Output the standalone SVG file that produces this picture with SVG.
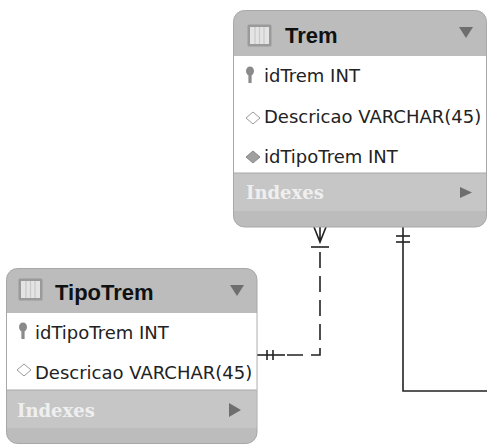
<svg xmlns="http://www.w3.org/2000/svg" width="487" height="445" viewBox="0 0 487 445">
<style>
.box{fill:#bcbcbc;stroke:#a8a8a8;stroke-width:1}
.body{fill:#ffffff}
.idx{fill:#c6c6c6}
.title{font-family:"Liberation Sans",Arial,sans-serif;font-weight:bold;font-size:22px;fill:#111}
.col{font-family:"DejaVu Sans",Verdana,sans-serif;font-size:18px;fill:#222}
.ixt{font-family:"DejaVu Serif","Liberation Serif",serif;font-weight:bold;font-size:18px;fill:#efefef}
.tri{fill:#6e6e6e}
.ln{stroke:#222;stroke-width:1.6;fill:none}
.dash{stroke-dasharray:16 8}
.dopen{fill:#fff;stroke:#999;stroke-width:1}
.dfill{fill:#a0a0a0;stroke:#888;stroke-width:1}
</style>
<defs>
<g id="tblicon">
<rect x="0.5" y="0.5" width="24" height="22" rx="1.5" fill="#9a9a9a"/>
<rect x="3" y="3" width="19" height="17" fill="#e4e4e4"/>
<line x1="8" y1="3" x2="8" y2="20" stroke="#c8c8c8" stroke-width="1.2"/>
<line x1="12.5" y1="3" x2="12.5" y2="20" stroke="#c8c8c8" stroke-width="1.2"/>
<line x1="17" y1="3" x2="17" y2="20" stroke="#c8c8c8" stroke-width="1.2"/>
</g>
<g id="keyicon">
<ellipse cx="0" cy="0" rx="4" ry="4.5" fill="#8a8a8a"/>
<rect x="-1.6" y="3" width="3.2" height="9" fill="#8a8a8a"/>
</g>
</defs>

<g id="connectors">
<path class="ln dash" d="M320,252 L320,355 L279,355"/>
<path class="ln" d="M257,355 L285,355"/>
<line class="ln" x1="267" y1="350" x2="267" y2="360"/>
<line class="ln" x1="273" y1="350" x2="273" y2="360"/>
<path class="ln" d="M314,227 L320,242 L326,227 M320,227 L320,242"/>
<line class="ln" x1="311" y1="247" x2="329" y2="247"/>
<path class="ln" d="M403,227 L403,391 L487,391"/>
<line class="ln" x1="396" y1="236" x2="410" y2="236"/>
<line class="ln" x1="396" y1="242" x2="410" y2="242"/>
</g>

<g id="Trem">
<rect class="box" x="233.5" y="10.5" width="253" height="216.5" rx="11"/>
<rect class="body" x="234" y="56" width="252" height="117"/>
<rect class="idx" x="234" y="173" width="252" height="38"/>
<line x1="234" y1="173" x2="486" y2="173" stroke="#a8a8a8"/>
<use href="#tblicon" x="247" y="24"/>
<text class="title" x="285" y="43">Trem</text>
<path class="tri" d="M459,27 L473,27 L466,38 Z"/>
<use href="#keyicon" x="250" y="71"/>
<text class="col" x="264" y="82">idTrem INT</text>
<path class="dopen" d="M246,118 L253,112 L260,118 L253,124 Z"/>
<text class="col" x="264" y="123">Descricao VARCHAR(45)</text>
<path class="dfill" d="M246,157 L253,151 L260,157 L253,163 Z"/>
<text class="col" x="264" y="163">idTipoTrem INT</text>
<text class="ixt" x="246" y="199">Indexes</text>
<path class="tri" d="M460,187 L472,192.5 L460,198 Z"/>
</g>

<g id="TipoTrem">
<rect class="box" x="6.5" y="268.5" width="250.5" height="175" rx="11"/>
<rect class="body" x="7" y="313" width="249.5" height="77"/>
<rect class="idx" x="7" y="390" width="249.5" height="38"/>
<line x1="7" y1="390" x2="256.5" y2="390" stroke="#a8a8a8"/>
<use href="#tblicon" x="18" y="278"/>
<text class="title" x="55" y="300">TipoTrem</text>
<path class="tri" d="M230,285 L244,285 L237,296 Z"/>
<use href="#keyicon" x="23" y="327"/>
<text class="col" x="35" y="339">idTipoTrem INT</text>
<path class="dopen" d="M17,370 L24,364 L31,370 L24,376 Z"/>
<text class="col" x="35" y="379">Descricao VARCHAR(45)</text>
<text class="ixt" x="17" y="417">Indexes</text>
<path class="tri" d="M229,403 L241,410 L229,417 Z"/>
</g>
</svg>
